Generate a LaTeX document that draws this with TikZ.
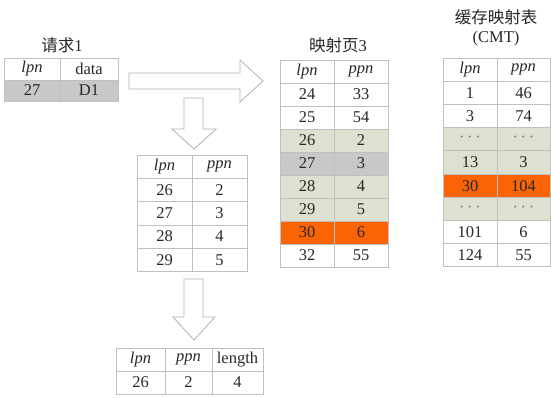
\documentclass[tikz,border=0pt]{standalone}
\usepackage{fontspec}
\setmainfont{Liberation Serif}
\newfontfamily\cjk{Noto Sans CJK SC}
\definecolor{gridc}{RGB}{192,192,192}
\definecolor{grayrow}{RGB}{200,200,200}
\definecolor{greenrow}{RGB}{222,224,208}
\definecolor{orangerow}{RGB}{250,100,5}
\definecolor{txt}{RGB}{40,40,40}
\definecolor{dotc}{RGB}{120,120,120}
\definecolor{arrowc}{RGB}{178,178,178}
\tikzset{
  cell/.style={draw=gridc, line width=0.8pt, inner sep=0pt, outer sep=0pt, anchor=north west,
    text=txt, font=\fontsize{16.5}{16.5}\selectfont},
  ttl/.style={text=txt, font=\fontsize{16.5}{19}\selectfont, inner sep=0pt, align=center},
  blockarrow/.style={draw=arrowc, fill=white, line width=0.8pt, line join=miter},
}
\newcommand\mkcell[7]{\node[cell,fill=#6,minimum width=#4pt,minimum height=#5pt] (#1) at (#2,#3) {#7};}
\newcommand\dts{{\color{dotc}\textperiodcentered\,\textperiodcentered\,\textperiodcentered}}
\begin{document}
\begin{tikzpicture}[x=1pt,y=-1pt]
\useasboundingbox[fill=white] (0,0) rectangle (551,397);

% ---- titles
\node[ttl] (t1title) at (62,45) {{\cjk 请求}1};
\node[ttl] (t4title) at (338,45) {{\cjk 映射页}3};
\node[ttl] (t5title) at (496,17) {\cjk 缓存映射表};
\node[ttl] (t5sub) at (496,39) {(CMT)};

% ---- table 1 (request)
\mkcell{t1h1}{4}{58}{56}{22}{white}{\textit{lpn}}
\mkcell{t1h2}{60}{58}{58}{22}{white}{data}
\mkcell{t1r1}{4}{80}{56}{21}{grayrow}{27}
\mkcell{t1r2}{60}{80}{58}{21}{grayrow}{D1}

% ---- table 2
\foreach \l/\p [count=\i from 0] in {{\textit{lpn}}/{\textit{ppn}},26/2,27/3,28/4,29/5}{
  \pgfmathsetmacro\yy{155+\i*23.3}
  \mkcell{t2a\i}{137}{\yy}{55}{23.3}{white}{\l}
  \mkcell{t2b\i}{192}{\yy}{55}{23.3}{white}{\p}
}

% ---- table 3
\mkcell{t3h1}{116}{348}{49}{23}{white}{\textit{lpn}}
\mkcell{t3h2}{165}{348}{47}{23}{white}{\textit{ppn}}
\mkcell{t3h3}{212}{348}{51}{23}{white}{length}
\mkcell{t3r1}{116}{371}{49}{23}{white}{26}
\mkcell{t3r2}{165}{371}{47}{23}{white}{2}
\mkcell{t3r3}{212}{371}{51}{23}{white}{4}

% ---- table 4 (mapping page 3)
\foreach \l/\p/\f [count=\i from 0] in {{\textit{lpn}}/{\textit{ppn}}/white,24/33/white,25/54/white,
  26/2/greenrow,27/3/grayrow,28/4/greenrow,29/5/greenrow,30/6/orangerow,32/55/white}{
  \pgfmathsetmacro\yy{60+\i*23}
  \mkcell{t4a\i}{280}{\yy}{54}{23}{\f}{\l}
  \mkcell{t4b\i}{334}{\yy}{54}{23}{\f}{\p}
}

% ---- table 5 (CMT)
\foreach \l/\p/\f [count=\i from 0] in {{\textit{lpn}}/{\textit{ppn}}/white,1/46/white,3/74/white,
  \dts/\dts/greenrow,13/3/greenrow,30/104/orangerow,\dts/\dts/greenrow,101/6/white,124/55/white}{
  \pgfmathsetmacro\yy{58+\i*23.2}
  \mkcell{t5a\i}{443}{\yy}{54}{23.2}{\f}{\l}
  \mkcell{t5b\i}{497}{\yy}{53}{23.2}{\f}{\p}
}

% ---- hollow block arrows
\draw[blockarrow] (129,73) -- (240,73) -- (240,60) -- (263,81) -- (240,102) -- (240,89) -- (129,89) -- cycle;
\draw[blockarrow] (184,98) -- (203,98) -- (203,129) -- (216,129) -- (194,149) -- (172,129) -- (184,129) -- cycle;
\draw[blockarrow] (184,279) -- (203,279) -- (203,317) -- (215,317) -- (194,340) -- (173,317) -- (184,317) -- cycle;
\end{tikzpicture}
\end{document}
